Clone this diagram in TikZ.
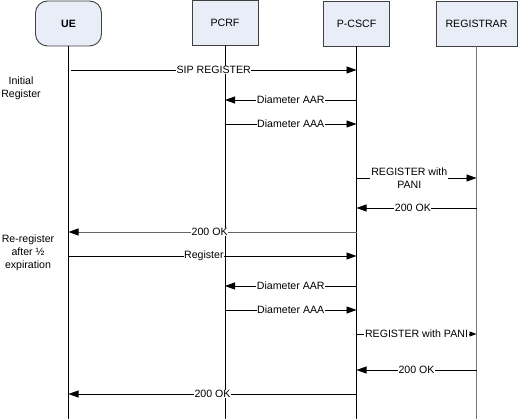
\documentclass[tikz,border=0pt]{standalone}
\usepackage{fontspec}
\setmainfont{Liberation Sans}
\usetikzlibrary{arrows.meta}
\definecolor{boxfill}{HTML}{E8EDF7}
\definecolor{boxline}{HTML}{404040}
\definecolor{lifegray}{HTML}{777777}
\begin{document}
\begin{tikzpicture}[x=1pt,y=-1pt,
  font=\fontsize{10.6}{12.8}\selectfont,
  entity/.style={draw=boxline,line width=0.9pt,fill=boxfill,minimum width=66pt,minimum height=45pt,inner sep=0pt},
  life/.style={line width=0.9pt,black},
  msg/.style={line width=0.8pt,-{Triangle[length=10pt,width=7pt]}},
  lbl/.style={fill=white,inner sep=0.6pt,text=black},
  side/.style={align=center,inner sep=0pt}]
\useasboundingbox (0,0) rectangle (518,419);
% entities
\node[entity,rounded corners=12pt,font=\fontsize{10.6}{12.8}\selectfont\bfseries] (ue) at (68.5,23.5) {UE};
\node[entity] (pcrf) at (225,22.5) {PCRF};
\node[entity] (pcscf) at (356.5,23.5) {P-CSCF};
\node[entity,minimum width=81pt] (reg) at (476.5,23.5) {REGISTRAR};
% bottom coordinate
\coordinate (bot) at (0,419);
% lifelines
\draw[life] (ue.south) -- (ue |- bot);
\draw[life] (pcrf.south) -- (pcrf |- bot);
\draw[life] (pcscf.south) -- (pcscf |- bot);
\draw[life,lifegray] (reg.south) -- (reg |- bot);
% row levels
\coordinate (r1) at (0,70);
\coordinate (r2) at (0,100);
\coordinate (r3) at (0,124);
\coordinate (r4) at (0,178);
\coordinate (r5) at (0,208);
\coordinate (r6) at (0,232);
\coordinate (r7) at (0,256);
\coordinate (r8) at (0,286);
\coordinate (r9) at (0,310);
\coordinate (r10) at (0,334);
\coordinate (r11) at (0,370);
\coordinate (r12) at (0,394);
\coordinate (ues) at (71,0);
% side notes
\node[side] (n1) at (21,88) {Initial\\Register};
\node[side] (n2) at (28,253) {Re-register\\after ½\\expiration};
% messages
\draw[msg] (ues |- r1) -- node[lbl,pos=0.5] {SIP REGISTER} (pcscf |- r1);
\draw[msg] (pcscf |- r2) -- node[lbl] {Diameter AAR} (pcrf |- r2);
\draw[msg] (pcrf |- r3) -- node[lbl] {Diameter AAA} (pcscf |- r3);
\draw[msg] (pcscf |- r4) -- node[lbl,pos=0.44,align=center,inner sep=1pt] {REGISTER with\\PANI} (reg |- r4);
\draw[msg] (reg |- r5) -- node[lbl,pos=0.53] {200 OK} (pcscf |- r5);
\draw[line width=0.9pt,draw=black!60,-{Triangle[length=10pt,width=7pt,color=black]}] (pcscf |- r6) -- node[lbl,pos=0.51] {200 OK} (ue |- r6);
\draw[msg] (ue |- r7) -- node[lbl,pos=0.47] {Register} (pcscf |- r7);
\draw[msg] (pcscf |- r8) -- node[lbl] {Diameter AAR} (pcrf |- r8);
\draw[msg] (pcrf |- r9) -- node[lbl] {Diameter AAA} (pcscf |- r9);
\draw[msg,-{Triangle[length=7pt,width=5pt]}] (pcscf |- r10) -- node[lbl,pos=0.5] {REGISTER with PANI} (reg |- r10);
\draw[msg] (reg |- r11) -- node[lbl,pos=0.5] {200 OK} (pcscf |- r11);
\draw[msg] (pcscf |- r12) -- node[lbl,pos=0.5] {200 OK} (ue |- r12);
\end{tikzpicture}
\end{document}
